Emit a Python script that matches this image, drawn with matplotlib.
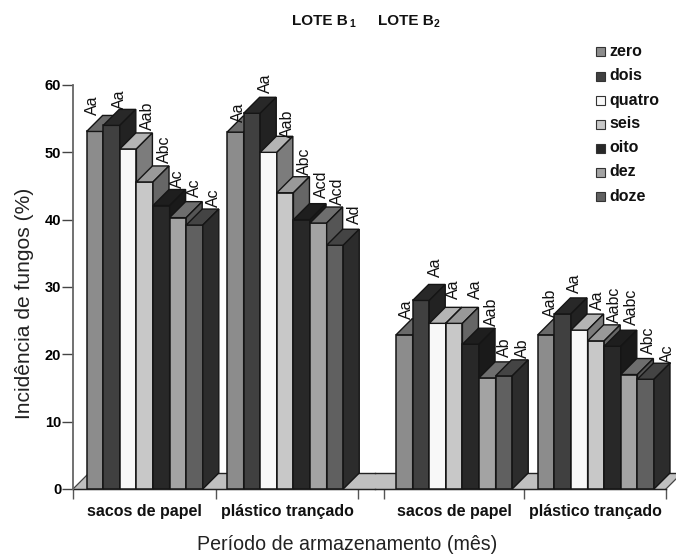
import matplotlib
matplotlib.use('Agg')
import matplotlib.pyplot as plt
from matplotlib.patches import Polygon, Rectangle

plt.rcParams['font.family'] = ['Liberation Sans', 'DejaVu Sans']

## data
months = ['zero', 'dois', 'quatro', 'seis', 'oito', 'dez', 'doze']
groups = ['sacos de papel', 'plástico trançado', 'sacos de papel', 'plástico trançado']
b1_papel = [53.1, 54.0, 50.5, 45.6, 42.1, 40.3, 39.2]
b1_plastico = [53.0, 55.8, 50.0, 44.0, 40.0, 39.5, 36.2]
b2_papel = [22.9, 28.0, 24.6, 24.6, 21.5, 16.5, 16.8]
b2_plastico = [22.9, 26.0, 23.6, 22.0, 21.2, 17.0, 16.3]
values = [b1_papel, b1_plastico, b2_papel, b2_plastico]

let_b1_papel = ['Aa', 'Aa', 'Aab', 'Abc', 'Ac', 'Ac', 'Ac']
let_b1_plastico = ['Aa', 'Aa', 'Aab', 'Abc', 'Acd', 'Acd', 'Ad']
let_b2_papel = ['Aa', 'Aa', 'Aa', 'Aa', 'Aab', 'Ab', 'Ab']
let_b2_plastico = ['Aab', 'Aa', 'Aa', 'Aabc', 'Aabc', 'Abc', 'Ac']
letters = [let_b1_papel, let_b1_plastico, let_b2_papel, let_b2_plastico]

## layout, x unit = one bar
group_left = [0.82, 9.28, 19.46, 28.0]
group_text_x = [4.32, 12.92, 23.0, 31.45]
x_ticks = [0, 8.61, 17.17, 18.73, 27.17, 35.72]
floor_split = 18.19
depth_x = 16 / 16.6
depth_y = 16 / 6.73

## hand placed labels in the original: shift from bar centre (px), lift over the bar (px)
label_dx = [[-2, 8, 19.5, 20, 16, 17, 18.7],
            [3, 14, 19, 19, 20, 19, 20],
            [2, 15, 15.5, 21, 20.7, 17.5, 19],
            [4, 11.4, 18, 19, 19.3, 19, 22]]
label_up = [[0, 0, 3, 3, 2, 5, 2],
            [-6, 4, -2, 2, 6, 2, 5],
            [0, 7, 8, 8, 2, 5, 2],
            [2, 5, 4, 2, 5, 5, 0]]

## front, top, side colours
front = ['#8c8c8c', '#404040', '#f8f8f8', '#c8c8c8', '#282828', '#a3a3a3', '#606060']
top = ['#6a6a6a', '#282828', '#b4b4b4', '#999999', '#1e1e1e', '#6e6e6e', '#444444']
side = ['#666666', '#222222', '#7c7c7c', '#666666', '#1a1a1a', '#555555', '#2c2c2c']
edge = '#151515'

fig = plt.figure(figsize=(6.76, 5.59), dpi=100)
ax = fig.add_axes([73 / 676, 1 - 489 / 559, 603 / 676, 404 / 559])
ax.set_xlim(0, 603 / 16.6)
ax.set_ylim(0, 60)

## floors
floor1 = [(0, 0), (floor_split, 0), (floor_split, depth_y), (depth_x, depth_y)]
floor2 = [(floor_split, 0), (35.72, 0), (35.72 + depth_x, depth_y), (floor_split, depth_y)]
for f in [floor1, floor2]:
    ax.add_patch(Polygon(f, closed=True, fc='#c0c0c0', ec='none', clip_on=False, zorder=1))
    xs = [p[0] for p in f]
    ys = [p[1] for p in f]
    ax.plot(xs[:2], ys[:2], color='#222222', lw=1.0, clip_on=False, zorder=2)
    ax.plot(xs[2:], ys[2:], color='#222222', lw=1.0, clip_on=False, zorder=2)
ax.plot([0, depth_x], [0, depth_y], color='#444444', lw=0.9, zorder=2, clip_on=False)
ax.plot([35.72, 35.72 + depth_x], [0, depth_y], color='#444444', lw=0.9, zorder=2, clip_on=False)

## bars
for g in range(4):
    for i in range(7):
        v = values[g][i]
        x = group_left[g] + i
        ax.bar(x, v, width=1, align='edge', color=front[i], edgecolor=edge, linewidth=1.1, zorder=3 + i * 0.1)
        ax.add_patch(Polygon([(x, v), (x + 1, v), (x + 1 + depth_x, v + depth_y), (x + depth_x, v + depth_y)],
                             closed=True, fc=top[i], ec=edge, lw=1.0, clip_on=False, zorder=3 + i * 0.1))
        ax.add_patch(Polygon([(x + 1, 0), (x + 1 + depth_x, depth_y), (x + 1 + depth_x, v + depth_y), (x + 1, v)],
                             closed=True, fc=side[i], ec=edge, lw=1.0, clip_on=False, zorder=3 + i * 0.1))

## letters over the bars
for g in range(4):
    for i in range(7):
        lx = group_left[g] + i + 0.5 + label_dx[g][i] / 16.6
        ly = values[g][i] + depth_y + label_up[g][i] / 6.73
        ax.text(lx, ly, letters[g][i], rotation=90, ha='center', va='bottom', fontsize=11.5,
                color='#111111', clip_on=False, zorder=10)

## axes
for s in ['top', 'right']:
    ax.spines[s].set_visible(False)
ax.spines['left'].set_color('#666666')
ax.spines['left'].set_linewidth(1.3)
ax.spines['bottom'].set_bounds(0, 35.72)
ax.spines['bottom'].set_color('#222222')
ax.spines['bottom'].set_zorder(2)
ax.set_yticks([0, 10, 20, 30, 40, 50, 60])
ax.set_xticks(x_ticks)
ax.set_xticklabels([])
ax.tick_params(axis='y', length=8, width=1.0, color='#444444', pad=0.5)
ax.tick_params(axis='x', length=7, width=1.0, color='#555555')
for t in ax.get_yticklabels():
    t.set_fontweight('bold')
    t.set_fontsize(10.5)

for g in range(4):
    ax.text(group_text_x[g], -3.4, groups[g], ha='center', va='center', fontsize=11.5, fontweight='bold', color='#111111')

fig.text(347.5 / 676, 1 - 544 / 559, 'Período de armazenamento (mês)', ha='center', va='center', fontsize=14.1, color='#222222')
fig.text(25 / 676, 1 - 303 / 559, 'Incidência de fungos (%)', rotation=90, ha='center', va='center', fontsize=15.1, color='#222222')

## title, subscripts as small text
for px, sub in [(292.5, '1'), (377.5, '2')]:
    fig.text(px / 676, 1 - 21 / 559, 'LOTE B', ha='left', va='center', fontsize=11, fontweight='bold', color='#111111')
    fig.text((px + 56.5) / 676, 1 - 24 / 559, sub, ha='left', va='center', fontsize=7.5, fontweight='bold', color='#111111')

## legend
for i, m in enumerate(months):
    y = 52 + 24 * i
    fig.add_artist(Rectangle((596 / 676, 1 - (y + 4.5) / 559), 9 / 676, 9 / 559, transform=fig.transFigure,
                             fc=front[i], ec='#333333', lw=0.8))
    fig.text(609 / 676, 1 - y / 559, m, ha='left', va='center', fontsize=11.5, fontweight='bold', color='#111111')

fig.savefig('out.png', dpi=100)
